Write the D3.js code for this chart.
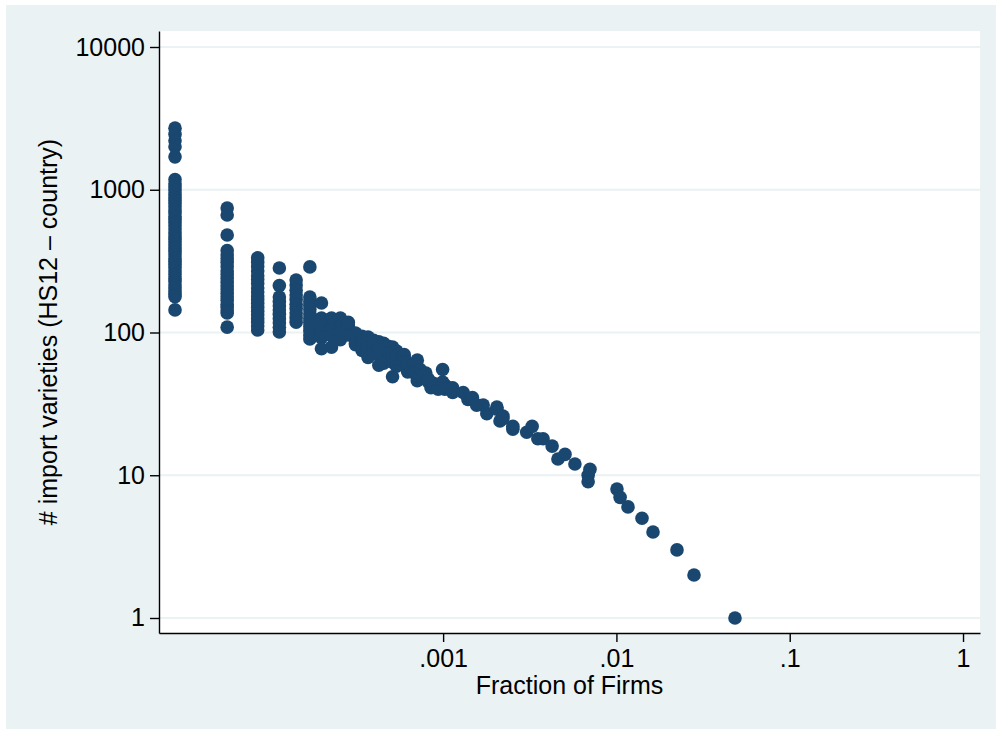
<!DOCTYPE html>
<html>
<head>
<meta charset="utf-8">
<script src="https://cdn.jsdelivr.net/npm/d3@7"></script>
<style>
  html, body { margin: 0; padding: 0; background: #ffffff; }
  svg { display: block; font-family: "Liberation Sans", Arial, Helvetica, sans-serif; }
</style>
</head>
<body>
<svg id="chart" width="996" height="729"></svg>
<script>
// ---------------- data ----------------
const totalFirms = 35237;   // fraction of firms = firm count / total firms

// firm count for each point (parallel to importVarieties)
const firmCounts = [
  1,1,1,1,1,1,1,1,1,1,1,1,1,1,1,1,1,1,1,1,1,1,1,1,1,1,1,1,1,1,1,1,1,1,1,1,1,1,1,1,1,1,1,
  2,2,2,2,2,2,2,2,2,2,2,2,2,2,2,2,2,2,2,2,2,2,
  3,3,3,3,3,3,3,3,3,3,3,3,3,3,3,3,3,3,3,
  4,4,4,4,4,4,4,4,4,4,4,
  5,5,5,5,5,5,5,5,5,5,
  6,6,6,6,6,6,6,6,6,6,6,6,
  7,7,7,7,7,7,7,
  8,8,8,8,8,
  9,9,9,9,
  10,10,10,10,
  11,11,11,
  12,12,12,12,
  13,13,13,13,13,
  14,14,14,
  15,15,15,15,
  16,16,16,16,
  17,17,17,
  18,18,18,18,
  19,19,19,
  20,20,
  21,21,21,
  22,22,
  23,23,
  24,24,
  25,25,
  26,26,27,
  28,29,29,30,31,33,33,
  35,35,36,36,38,
  40,40,
  46,49,52,52,55,60,63,72,72,75,78,78,89,89,
  107,115,124,133,150,162,178,203,242,242,248,
  355,370,411,495,573,788,988,1703
];

// number of import varieties (HS12 - country) for each point
const importVarieties = [
  2700,2450,2200,2000,1700,1180,1100,1050,990,930,880,840,800,760,720,690,650,620,590,560,530,500,475,450,430,410,390,370,350,330,315,300,285,270,255,240,228,215,205,195,185,178,144,
  745,666,482,375,350,330,310,290,270,255,240,225,212,200,188,178,168,158,150,142,137,109,
  333,310,290,270,250,235,220,205,192,180,170,160,150,141,133,125,118,111,104,
  283,213,177,165,154,144,134,125,117,109,101,
  233,215,198,183,170,158,147,137,127,118,
  288,177,165,155,145,135,126,118,110,103,96,90,
  161,126,118,108,99,92,77,
  126,112,104,95,79,
  126,108,99,89,
  118,113,108,96,
  99,84,82,
  89,94,80,75,
  93,91,85,78,67,
  88,80,72,
  86,78,70,59,
  84,76,66,61,
  80,72,65,
  79,72,62,49,
  74,68,58,
  66,60,
  67,70,63,
  53,61,
  58,55,
  60,52,
  64,46,
  55,50,48,
  52,47,45,41,44,43,40,
  55,45,43,40,41,
  41,38,
  38,34,34,35,31,31,27,30,29,24,26,25,21,22,
  20,22,18,18,16,13,14,12,10,9,11,
  8,7,6,5,4,3,2,1
];

const xTickValues = [0.001, 0.01, 0.1, 1];
const xTickLabels = [".001", ".01", ".1", "1"];
const yTickValues = [1, 10, 100, 1000, 10000];
const yTickLabels = ["1", "10", "100", "1000", "10000"];

const xTitle = "Fraction of Firms";
const yTitle = "# import varieties (HS12 \u2013 country)";

// ---------------- layout ----------------
const W = 996, H = 729;
const plot = { left: 159, right: 980, top: 31, bottom: 633 };
const bgColor = "#EAF2F3";
const markerColor = "#1A476F";
const fontSize = 25;

const svg = d3.select("#chart");

svg.append("rect").attr("x", 0).attr("y", 0).attr("width", W).attr("height", H).attr("fill", "#ffffff");
svg.append("rect").attr("x", 6).attr("y", 5).attr("width", W - 6).attr("height", H - 5).attr("fill", bgColor);
svg.append("rect")
  .attr("x", plot.left).attr("y", plot.top)
  .attr("width", plot.right - plot.left).attr("height", plot.bottom - plot.top)
  .attr("fill", "#ffffff");

const x = d3.scaleLog().domain([2.294e-5, 1.253]).range([plot.left, plot.right]);
const y = d3.scaleLog().domain([0.785, 12945]).range([plot.bottom, plot.top]);

// gridlines
svg.append("g").selectAll("line").data(yTickValues).join("line")
  .attr("x1", plot.left).attr("x2", plot.right)
  .attr("y1", d => y(d)).attr("y2", d => y(d))
  .attr("stroke", bgColor).attr("stroke-width", 2);

// points
const points = firmCounts.map((f, i) => ({ fx: f / totalFirms, v: importVarieties[i] }));
svg.append("g").selectAll("circle").data(points).join("circle")
  .attr("cx", d => x(d.fx)).attr("cy", d => y(d.v))
  .attr("r", 6.8)
  .attr("fill", markerColor);

// axes
const yAxis = d3.axisLeft(y)
  .tickValues(yTickValues)
  .tickFormat((d, i) => yTickLabels[i])
  .tickSize(9).tickSizeOuter(0).tickPadding(5);
const gy = svg.append("g").attr("transform", `translate(${plot.left},0)`).call(yAxis);

const xAxis = d3.axisBottom(x)
  .tickValues(xTickValues)
  .tickFormat((d, i) => xTickLabels[i])
  .tickSize(9).tickSizeOuter(0).tickPadding(7);
const gx = svg.append("g").attr("transform", `translate(0,${plot.bottom})`).call(xAxis);

[gx, gy].forEach(g => {
  g.select(".domain").attr("stroke", "#000").attr("stroke-width", 1.4);
  g.selectAll(".tick line").attr("stroke", "#000").attr("stroke-width", 1.4);
  g.selectAll(".tick text").attr("fill", "#000").attr("font-size", fontSize)
    .attr("font-family", '"Liberation Sans", Arial, sans-serif');
});

// titles
svg.append("text")
  .attr("x", (plot.left + plot.right) / 2).attr("y", 694)
  .attr("text-anchor", "middle").attr("font-size", fontSize).attr("fill", "#000")
  .text(xTitle);

svg.append("text")
  .attr("transform", `translate(57,${(plot.top + plot.bottom) / 2}) rotate(-90)`)
  .attr("text-anchor", "middle").attr("font-size", fontSize).attr("fill", "#000")
  .text(yTitle);
</script>
</body>
</html>
